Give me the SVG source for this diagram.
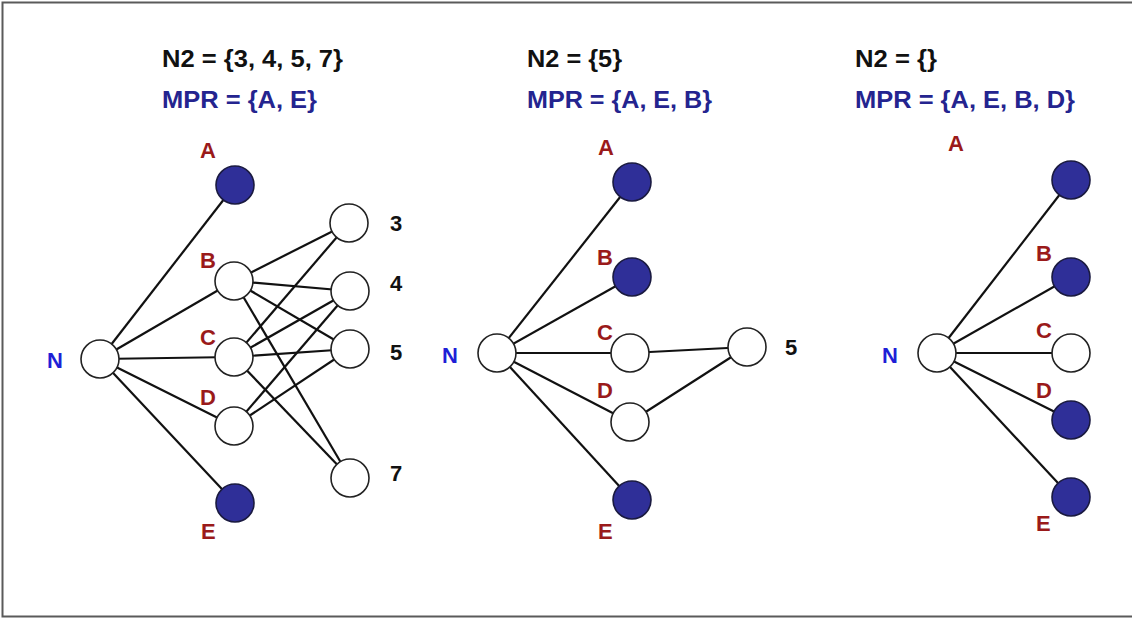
<svg xmlns="http://www.w3.org/2000/svg" width="1132" height="619" viewBox="0 0 1132 619">
<style>
text{font-family:"Liberation Sans",Arial,sans-serif;font-weight:bold}
.t{font-size:23px;fill:#111}
.m{font-size:23px;fill:#24248f}
.lb{font-size:22px;fill:#9a1a1a}
.n{font-size:22px;fill:#1f1fd6}
.num{font-size:22px;fill:#111}
.e{stroke:#111;stroke-width:2.2;fill:none}
.w{fill:#fff;stroke:#222;stroke-width:1.6}
.f{fill:#2f2f98;stroke:#1a1a40;stroke-width:1.6}
</style>
<rect width="1132" height="619" fill="#fff"/>
<path d="M1132 2.5H2.5V616.5H1132" fill="none" stroke="#5a5a5a" stroke-width="2"/>
<g id="titles">
<text class="t" x="162" y="67" textLength="181" lengthAdjust="spacingAndGlyphs">N2 = {3, 4, 5, 7}</text>
<text class="m" x="162" y="108" textLength="155" lengthAdjust="spacingAndGlyphs">MPR = {A, E}</text>
<text class="t" x="527" y="67" textLength="95" lengthAdjust="spacingAndGlyphs">N2 = {5}</text>
<text class="m" x="527" y="108" textLength="185" lengthAdjust="spacingAndGlyphs">MPR = {A, E, B}</text>
<text class="t" x="855" y="67" textLength="82" lengthAdjust="spacingAndGlyphs">N2 = {}</text>
<text class="m" x="855" y="108" textLength="220" lengthAdjust="spacingAndGlyphs">MPR = {A, E, B, D}</text>
</g>
<g id="connectors">
<!-- panel 1 -->
<line class="e" x1="100" y1="359" x2="235" y2="185"/>
<line class="e" x1="100" y1="359" x2="234" y2="281"/>
<line class="e" x1="100" y1="359" x2="234" y2="357"/>
<line class="e" x1="100" y1="359" x2="234" y2="426"/>
<line class="e" x1="100" y1="359" x2="235" y2="503"/>
<line class="e" x1="234" y1="281" x2="349" y2="223"/>
<line class="e" x1="234" y1="281" x2="350" y2="291"/>
<line class="e" x1="234" y1="281" x2="350" y2="349"/>
<line class="e" x1="234" y1="281" x2="350" y2="478"/>
<line class="e" x1="234" y1="357" x2="349" y2="223"/>
<line class="e" x1="234" y1="357" x2="350" y2="291"/>
<line class="e" x1="234" y1="357" x2="350" y2="349"/>
<line class="e" x1="234" y1="357" x2="350" y2="478"/>
<line class="e" x1="234" y1="426" x2="350" y2="291"/>
<line class="e" x1="234" y1="426" x2="350" y2="349"/>
<!-- panel 2 -->
<line class="e" x1="497" y1="353" x2="632" y2="182"/>
<line class="e" x1="497" y1="353" x2="632" y2="277"/>
<line class="e" x1="497" y1="353" x2="630" y2="353"/>
<line class="e" x1="497" y1="353" x2="630" y2="422"/>
<line class="e" x1="497" y1="353" x2="632" y2="500"/>
<line class="e" x1="630" y1="353" x2="747" y2="347"/>
<line class="e" x1="630" y1="422" x2="747" y2="347"/>
<!-- panel 3 -->
<line class="e" x1="937" y1="353" x2="1071" y2="180"/>
<line class="e" x1="937" y1="353" x2="1071" y2="277"/>
<line class="e" x1="937" y1="353" x2="1071" y2="353"/>
<line class="e" x1="937" y1="353" x2="1071" y2="420"/>
<line class="e" x1="937" y1="353" x2="1071" y2="497"/>
</g>
<!-- panel 1 nodes -->
<g id="p1-N"><circle class="w" cx="100" cy="359" r="19"/><text class="n" x="47" y="368">N</text></g>
<g id="p1-A"><circle class="f" cx="235" cy="185" r="19"/><text class="lb" x="200" y="158">A</text></g>
<g id="p1-B"><circle class="w" cx="234" cy="281" r="19"/><text class="lb" x="200" y="268">B</text></g>
<g id="p1-C"><circle class="w" cx="234" cy="357" r="19"/><text class="lb" x="200" y="345">C</text></g>
<g id="p1-D"><circle class="w" cx="234" cy="426" r="19"/><text class="lb" x="200" y="405">D</text></g>
<g id="p1-E"><circle class="f" cx="235" cy="503" r="19"/><text class="lb" x="201" y="539">E</text></g>
<g id="p1-3"><circle class="w" cx="349" cy="223" r="19"/><text class="num" x="390" y="231">3</text></g>
<g id="p1-4"><circle class="w" cx="350" cy="291" r="19"/><text class="num" x="390" y="291">4</text></g>
<g id="p1-5"><circle class="w" cx="350" cy="349" r="19"/><text class="num" x="390" y="360">5</text></g>
<g id="p1-7"><circle class="w" cx="350" cy="478" r="19"/><text class="num" x="390" y="481">7</text></g>
<!-- panel 2 nodes -->
<g id="p2-N"><circle class="w" cx="497" cy="353" r="19"/><text class="n" x="442" y="363">N</text></g>
<g id="p2-A"><circle class="f" cx="632" cy="182" r="19"/><text class="lb" x="598" y="155">A</text></g>
<g id="p2-B"><circle class="f" cx="632" cy="277" r="19"/><text class="lb" x="597" y="265">B</text></g>
<g id="p2-C"><circle class="w" cx="630" cy="353" r="19"/><text class="lb" x="597" y="340">C</text></g>
<g id="p2-D"><circle class="w" cx="630" cy="422" r="19"/><text class="lb" x="597" y="398">D</text></g>
<g id="p2-E"><circle class="f" cx="632" cy="500" r="19"/><text class="lb" x="598" y="539">E</text></g>
<g id="p2-5"><circle class="w" cx="747" cy="347" r="19"/><text class="num" x="785" y="355">5</text></g>
<!-- panel 3 nodes -->
<g id="p3-N"><circle class="w" cx="937" cy="353" r="19"/><text class="n" x="882" y="363">N</text></g>
<g id="p3-A"><circle class="f" cx="1071" cy="180" r="19"/><text class="lb" x="948" y="151">A</text></g>
<g id="p3-B"><circle class="f" cx="1071" cy="277" r="19"/><text class="lb" x="1036" y="261">B</text></g>
<g id="p3-C"><circle class="w" cx="1071" cy="353" r="19"/><text class="lb" x="1036" y="338">C</text></g>
<g id="p3-D"><circle class="f" cx="1071" cy="420" r="19"/><text class="lb" x="1036" y="398">D</text></g>
<g id="p3-E"><circle class="f" cx="1071" cy="497" r="19"/><text class="lb" x="1036" y="531">E</text></g>
</svg>
